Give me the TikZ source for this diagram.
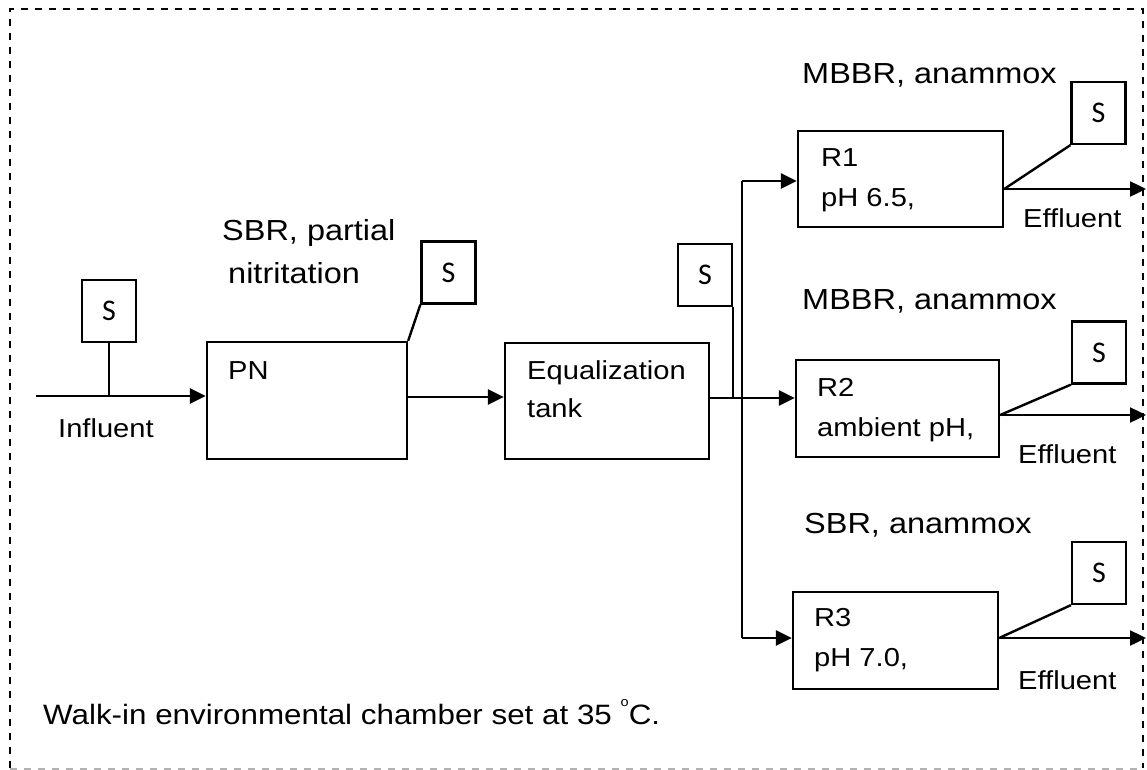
\documentclass[tikz,border=0pt]{standalone}
\usepackage{fontspec}
\setmainfont[FakeStretch=1.12]{Liberation Sans}
\newfontfamily\sfont{Carlito}
\usetikzlibrary{arrows.meta}
\begin{document}
\begin{tikzpicture}[x=1pt,y=-1pt,
  blk/.style={draw,line width=2.3pt,inner sep=0pt},
  sbox/.style={draw,line width=2.3pt,inner sep=0pt,minimum width=54pt,minimum height=62pt,font=\sfont\fontsize{30}{30}\selectfont},
  lbl/.style={anchor=west,inner sep=0pt,align=left,font=\fontsize{26}{40}\selectfont},
  hdr/.style={anchor=west,inner sep=0pt,align=left,font=\fontsize{29}{43}\selectfont},
  flow/.style={line width=2.4pt},
  arr/.style={flow,-{Triangle[length=16pt,width=15pt]}},
  frame/.style={line width=2pt,dash pattern=on 7pt off 7pt}]
\useasboundingbox (0,0) rectangle (1147,770);
% frame
\draw[frame] (10,768) -- (10,9) -- (1143,9) -- (1143,768);
\draw[frame,black!30] (10,768.5) -- (1143,768.5);
% boxes
\node[blk,minimum width=200pt,minimum height=117pt] (PN) at (307,400.5) {};
\node[blk,minimum width=204pt,minimum height=116pt] (EQ) at (607,401) {};
\node[blk,minimum width=205pt,minimum height=96pt] (R1) at (900.5,179) {};
\node[blk,minimum width=203pt,minimum height=97pt] (R2) at (897.5,408.5) {};
\node[blk,minimum width=205pt,minimum height=97pt] (R3) at (895.5,640.5) {};
% sampling boxes
\node[sbox] (S0) at (109,311) {S};
\node[sbox] (S1) at (448.5,272.5) {S};
\node[sbox] (S2) at (705,275) {S};
\node[sbox] (S3) at (1098.5,113) {S};
\node[sbox] (S4) at (1099,352.5) {S};
\node[sbox] (S5) at (1099,573) {S};
% texts
\node[lbl] (tPN) at (228,371) {PN};
\node[lbl,font=\fontsize{26}{38}\selectfont] (tEQ) at (527,389) {Equalization\\tank};
\node[lbl] (tR1) at (821,180) {R1\\pH 6.5,};
\node[lbl] (tR2) at (817,410) {R2\\ambient pH,};
\node[lbl] (tR3) at (814,640) {R3\\pH 7.0,};
\node[hdr] (tSBR) at (222,251.5) {SBR, partial\\\hspace*{6pt}nitritation};
\node[hdr] (tM1) at (802,75) {MBBR, anammox};
\node[hdr] (tM2) at (802,301) {MBBR, anammox};
\node[hdr] (tS3) at (804,525) {SBR, anammox};
\node[lbl] (tIn) at (58,428) {Influent};
\node[lbl] (tE1) at (1023,218) {Effluent};
\node[lbl] (tE2) at (1018,454) {Effluent};
\node[lbl] (tE3) at (1018,680) {Effluent};
\node[hdr,font=\fontsize{28}{28}\selectfont] (tW) at (43,712) {Walk-in environmental chamber set at 35 \raisebox{0.62em}{\fontsize{13}{13}\selectfont o}C.};
% flows
\coordinate (in0) at (36,396);
\draw[arr] (in0) -- (in0 -| PN.west);
\draw[flow] (S0.south) -- (S0.south |- in0);
\draw[flow] (S1.south west) -- (PN.north east);
\draw[arr] (PN.east |- 0,397) -- (EQ.west |- 0,397);
\draw[arr] (EQ.east |- 0,398) -- (R2.west |- 0,398);
\draw[flow] (S2.south east) -- (S2.south east |- 0,398);
\coordinate (b1) at (742,181);
\coordinate (b3) at (742,638);
\draw[flow] (b1) -- (b3);
\draw[arr] (b1) -- (b1 -| R1.west);
\draw[arr] (b3) -- (b3 -| R3.west);
\coordinate (o1) at (1146,189);
\coordinate (o2) at (1146,415);
\coordinate (o3) at (1146,638);
\draw[arr] (o1 -| R1.east) -- (o1);
\draw[arr] (o2 -| R2.east) -- (o2);
\draw[arr] (o3 -| R3.east) -- (o3);
\draw[flow] (S3.south west) -- (o1 -| R1.east);
\draw[flow] (S4.south west) -- (o2 -| R2.east);
\draw[flow] (S5.south west) -- (o3 -| R3.east);
\end{tikzpicture}
\end{document}
